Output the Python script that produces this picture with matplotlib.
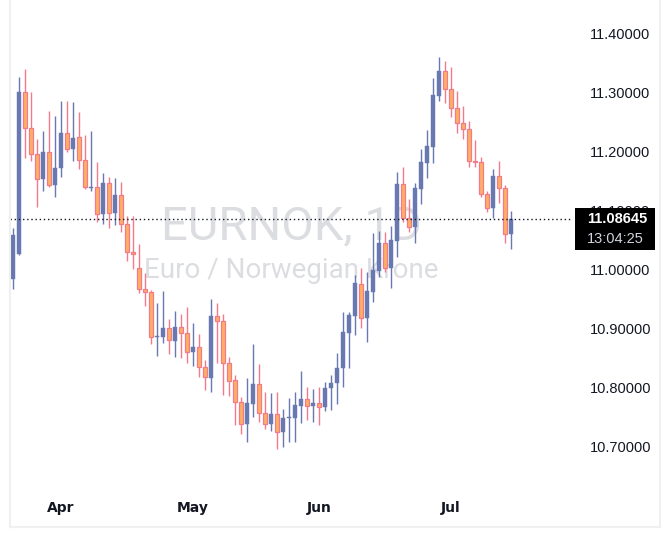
import numpy as np
import matplotlib as mpl
mpl.use("Agg")
import matplotlib.pyplot as plt
from matplotlib.patches import Rectangle
from matplotlib.lines import Line2D

# daily EURNOK candles
opens = [10.9847, 11.0271, 11.3017, 11.2407, 11.1966, 11.1542, 11.2000, 11.1440, 11.1729, 11.2322,
         11.2051, 11.2254, 11.1864, 11.1390, 11.1407, 11.0949, 11.1474, 11.0966, 11.1271, 11.0779,
         11.0305, 11.0034, 10.9678, 10.9627, 10.8864, 10.8864, 10.9017, 10.8796, 10.9034, 10.8932,
         10.8610, 10.8695, 10.8356, 10.8169, 10.9220, 10.9135, 10.8423, 10.8135, 10.7763, 10.7390,
         10.7729, 10.8068, 10.7576, 10.7390, 10.7559, 10.7254, 10.7491, 10.7491, 10.7695, 10.7813,
         10.7695, 10.7746, 10.7678, 10.8000, 10.8085, 10.8339, 10.8932, 10.9220, 10.9763, 10.9186,
         10.9627, 10.9983, 11.0457, 11.0034, 11.0491, 11.1457, 11.0881, 11.0729, 11.1373, 11.1813,
         11.2085, 11.2949, 11.3373, 11.3068, 11.2746, 11.2491, 11.2390, 11.1847, 11.1830, 11.1288,
         11.1051, 11.1593, 11.1390, 11.0610]
highs = [11.0712, 11.3271, 11.3407, 11.3017, 11.2220, 11.2356, 11.2695, 11.2610, 11.2864, 11.2864,
         11.2847, 11.2678, 11.2288, 11.2356, 11.1830, 11.1644, 11.1576, 11.1559, 11.1491, 11.0915,
         11.0915, 11.0440, 10.9949, 10.9661, 10.9440, 10.9644, 10.9169, 10.9305, 10.9254, 10.9373,
         10.9102, 10.8915, 10.8474, 10.9508, 10.9440, 10.9254, 10.8525, 10.8220, 10.7847, 10.8169,
         10.8745, 10.8407, 10.7932, 10.7915, 10.7932, 10.7644, 10.7830, 10.7932, 10.8288, 10.8017,
         10.7983, 10.8017, 10.8101, 10.8220, 10.8593, 10.9288, 10.9288, 10.9915, 11.0034, 10.9966,
         11.0627, 11.0661, 11.0644, 11.0746, 11.1661, 11.1746, 11.1203, 11.1474, 11.2051, 11.2373,
         11.3254, 11.3610, 11.3542, 11.3440, 11.3034, 11.2779, 11.2525, 11.2203, 11.1915, 11.1339,
         11.1712, 11.1847, 11.1440, 11.1000]
lows = [10.9678, 11.0254, 11.1898, 11.1847, 11.1068, 11.1339, 11.1407, 11.1237, 11.1576, 11.2000,
        11.1847, 11.1712, 11.1373, 11.1339, 11.0813, 11.0779, 11.0712, 11.0762, 11.0644, 11.0152,
        11.0017, 10.9610, 10.9390, 10.8745, 10.8542, 10.8762, 10.8576, 10.8525, 10.8508, 10.8423,
        10.8373, 10.8186, 10.7966, 10.7932, 10.8423, 10.7881, 10.7864, 10.7373, 10.7220, 10.7085,
        10.7508, 10.7423, 10.7305, 10.7271, 10.6966, 10.7000, 10.7085, 10.7085, 10.7407, 10.7457,
        10.7423, 10.7373, 10.7610, 10.7627, 10.7729, 10.8017, 10.8339, 10.8898, 10.9017, 10.8779,
        10.9457, 10.9881, 10.9966, 10.9695, 11.0220, 11.0813, 11.0644, 11.0457, 11.1118, 11.1559,
        11.1813, 11.2864, 11.2830, 11.2593, 11.2322, 11.2220, 11.1746, 11.1746, 11.1237, 11.0983,
        11.0881, 11.1135, 11.0457, 11.0356]
closes = [11.0593, 11.3017, 11.2407, 11.1966, 11.1542, 11.2000, 11.1440, 11.1729, 11.2322, 11.2051,
          11.2237, 11.1864, 11.1407, 11.1407, 11.0949, 11.1474, 11.0966, 11.1271, 11.0779, 11.0305,
          11.0271, 10.9678, 10.9627, 10.8864, 10.8881, 10.9017, 10.8813, 10.9034, 10.8932, 10.8610,
          10.8695, 10.8356, 10.8186, 10.9220, 10.9135, 10.8423, 10.8118, 10.7763, 10.7390, 10.7746,
          10.8068, 10.7576, 10.7390, 10.7559, 10.7254, 10.7491, 10.7508, 10.7712, 10.7813, 10.7695,
          10.7746, 10.7678, 10.8000, 10.8085, 10.8339, 10.8949, 10.9237, 10.9779, 10.9186, 10.9644,
          11.0000, 11.0457, 11.0034, 11.0508, 11.1457, 11.0881, 11.0729, 11.1390, 11.1830, 11.2101,
          11.2966, 11.3373, 11.3068, 11.2746, 11.2491, 11.2390, 11.1847, 11.1830, 11.1288, 11.1051,
          11.1593, 11.1390, 11.0610, 11.08645]

month_labels = ["Apr", "May", "Jun", "Jul"]
month_pos = [8, 30, 51, 73]   # candle index of first session in month
price_ticks = [10.7, 10.8, 10.9, 11.0, 11.1, 11.2, 11.3, 11.4]
symbol = "EURNOK, 1D"
description = "Euro / Norwegian Krone"
clock = "13:04:25"

UP_COL = "#6878b0"
DN_FILL = "#fdb062"
DN_EDGE = "#f27a8a"
TXT = "#131722"

W, H = 670, 543
fig = plt.figure(figsize=(W / 100, H / 100), dpi=100)
fig.patch.set_facecolor("white")
ax = fig.add_axes([10 / W, 16 / H, 562 / W, 527 / H])
ax.set_facecolor("white")

x = np.arange(len(closes))
o = np.array(opens)
c = np.array(closes)
hi = np.array(highs)
lo = np.array(lows)
up = c >= o

ax.set_xlim(-0.5, 93.17)
ax.set_ylim(10.5644, 11.4576)

# watermark
ax.text(0.5, 0.571, symbol, transform=ax.transAxes, ha="center", va="center",
        fontsize=34, family="Roboto", color="#dcdde1", zorder=0)
ax.text(0.5, 0.486, description, transform=ax.transAxes, ha="center", va="center",
        fontsize=20, family="Roboto", color="#dcdde1", zorder=0)

# wicks
ax.vlines(x[up], lo[up], hi[up], color=UP_COL, lw=1, zorder=2)
ax.vlines(x[~up], lo[~up], hi[~up], color=DN_EDGE, lw=1, zorder=2)

# bodies
min_h = 0.0017
body_h = np.maximum(np.abs(c - o), min_h)
body_b = np.minimum(o, c)
ax.bar(x[up], body_h[up], bottom=body_b[up], width=0.78, color=UP_COL,
       edgecolor=UP_COL, linewidth=0.3, zorder=3)
ax.bar(x[~up], body_h[~up], bottom=body_b[~up], width=0.76, color=DN_FILL,
       edgecolor=DN_EDGE, linewidth=0.9, zorder=3)

# last price line
ax.axhline(closes[-1], color=TXT, lw=1, ls=(0, (1, 2)), zorder=4)

# axes cosmetics
for s in ax.spines.values():
    s.set_visible(False)
ax.yaxis.tick_right()
ax.set_yticks(price_ticks)
ax.set_yticklabels([f"{v:.5f}" for v in price_ticks])
ax.tick_params(axis="y", length=0, pad=13, labelsize=10.5, labelcolor=TXT)
for lab in ax.get_yticklabels():
    lab.set_family("Liberation Sans")
ax.set_xticks(month_pos)
ax.set_xticklabels(month_labels)
ax.tick_params(axis="x", length=0, pad=-19, labelsize=10, labelcolor=TXT)
for lab in ax.get_xticklabels():
    lab.set_fontweight("bold")
    lab.set_family("DejaVu Sans")

# chart frame
frame_col = "#f0f0f0"
fig.add_artist(Line2D([10 / W, 10 / W], [16 / H, 1], transform=fig.transFigure, color=frame_col, lw=1.5))
fig.add_artist(Line2D([10 / W, 660 / W], [16 / H, 16 / H], transform=fig.transFigure, color=frame_col, lw=1.5))
fig.add_artist(Line2D([660 / W, 660 / W], [16 / H, 1], transform=fig.transFigure, color=frame_col, lw=1.5))

# price tag box
fig.canvas.draw()
py = ax.transData.transform((0, closes[-1]))[1]
fig.add_artist(Rectangle((575 / W, (py - 31) / H), 80 / W, 42 / H, transform=fig.transFigure,
                         facecolor="black", edgecolor="none", zorder=5))
fig.text(587 / W, py / H, f"{closes[-1]:.5f}", ha="left", va="center", color="white",
         fontsize=10.5, family="Liberation Sans", fontweight="bold", zorder=6)
fig.text(587 / W, (py - 20) / H, clock, ha="left", va="center", color="#d1d4dc",
         fontsize=10.5, family="Liberation Sans", zorder=6)

fig.savefig("out.png", dpi=100, facecolor="white")
